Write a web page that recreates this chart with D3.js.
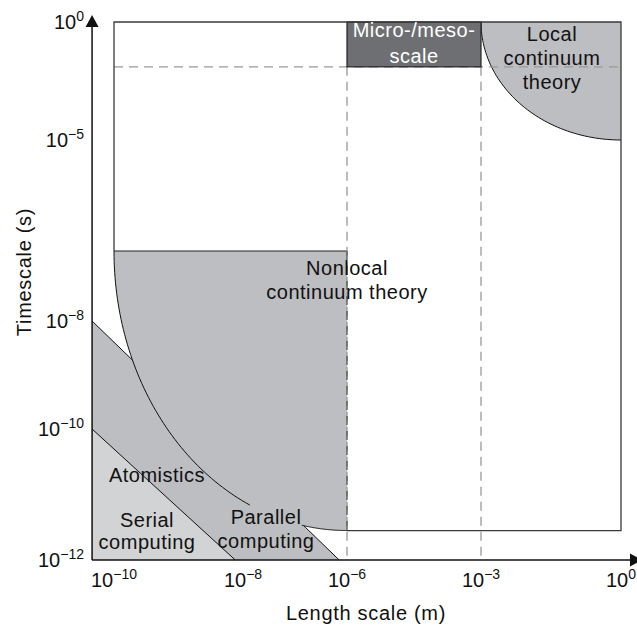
<!DOCTYPE html>
<html>
<head>
<meta charset="utf-8">
<script src="https://cdn.jsdelivr.net/npm/d3@7"></script>
<style>
body { margin: 0; background: #fff; }
text { font-family: "Liberation Sans", Arial, Helvetica, sans-serif; fill: #111; }
</style>
</head>
<body>
<script>
// axis ticks (schematic log axes, uneven decade spacing)
var xTicks = [1e-10, 1e-8, 1e-6, 1e-3, 1];
var yTicks = [1, 1e-5, 1e-8, 1e-10, 1e-12];

// where the two axes cross
var origin = [Math.pow(10, -10.34), 1e-12];

// regions, [length, time]
var frameX = [1e-10, 1];
var frameY = [1, Math.pow(10, -11.55)];
var mesoX = [1e-6, 1e-3];
var mesoY = [1, Math.pow(10, -1.9)];
var localX = [1e-3, 1];            // quarter ellipse round the (1, 1) corner
var localY = [1, 1e-5];
var nonlocalX = [1e-10, 1e-6];
var nonlocalY = [Math.pow(10, -6.84), Math.pow(10, -11.55)];
var atomLine = [[origin[0], 1e-8], [Math.pow(10, -6.15), 1e-12]];
var serialLine = [[origin[0], 1e-10], [Math.pow(10, -8.12), 1e-12]];
var arcGap = [Math.pow(10, -7.87), Math.pow(10, -6.87)]; // curve hidden near "Parallel"

var labelNames = {
    meso: ['Micro-/meso-', 'scale'],
    local: ['Local', 'continuum', 'theory'],
    nonlocal: ['Nonlocal', 'continuum theory'],
    atom: ['Atomistics'],
    serial: ['Serial', 'computing'],
    parallel: ['Parallel', 'computing']
};

var W = 637, H = 627;
var gray = '#bdbec1', light = '#d2d3d5', dark = '#6e6f72';

var svg = d3.select('body').append('svg')
    .attr('width', W)
    .attr('height', H);

var x = d3.scaleLog().domain(xTicks).range([114, 243, 347, 481, 621]);
var y = d3.scaleLog().domain(yTicks).range([22, 140, 321, 429, 560]);

var line = d3.line();
var ox = x(origin[0]), oy = y(origin[1]);

function ellipsePts(cx, cy, rx, ry, t0, t1) {
    return d3.range(0, 61).map(function (i) {
        var t = t0 + (t1 - t0) * i / 60;
        return [cx - rx * Math.cos(t), cy + ry * Math.sin(t)];
    });
}

// atomistics / parallel computing band
svg.append('path')
    .attr('d', line([[ox, y(atomLine[0][1])], [x(atomLine[1][0]), oy], [ox, oy]]) + 'Z')
    .attr('fill', gray);
svg.append('path')
    .attr('d', line(atomLine.map(function (d) { return [x(d[0]), y(d[1])]; })))
    .attr('stroke', '#111').attr('stroke-width', 1).attr('fill', 'none');

// nonlocal continuum region
var nlCx = x(nonlocalX[1]), nlCy = y(nonlocalY[0]);
var nlRx = nlCx - x(nonlocalX[0]), nlRy = y(nonlocalY[1]) - nlCy;
var nlArc = ellipsePts(nlCx, nlCy, nlRx, nlRy, 0, Math.PI / 2);
svg.append('path')
    .attr('d', line([[nlCx, nlCy]].concat(nlArc)) + 'Z')
    .attr('fill', gray);
var tGap = arcGap.map(function (v) { return Math.acos((nlCx - x(v)) / nlRx); });
[[0, tGap[0]], [tGap[1], Math.PI / 2]].forEach(function (r) {
    svg.append('path')
        .attr('d', line(ellipsePts(nlCx, nlCy, nlRx, nlRy, r[0], r[1])))
        .attr('stroke', '#111').attr('stroke-width', 1).attr('fill', 'none');
});
svg.append('line')
    .attr('x1', x(nonlocalX[0])).attr('x2', nlCx)
    .attr('y1', nlCy).attr('y2', nlCy)
    .attr('stroke', '#222').attr('stroke-width', 1.2);

// serial computing
svg.append('path')
    .attr('d', line([[ox, y(serialLine[0][1])], [x(serialLine[1][0]), oy], [ox, oy]]) + 'Z')
    .attr('fill', light);
svg.append('path')
    .attr('d', line(serialLine.map(function (d) { return [x(d[0]), y(d[1])]; })))
    .attr('stroke', '#111').attr('stroke-width', 1).attr('fill', 'none');

// local continuum region
var lcCx = x(localX[1]), lcCy = y(localY[0]);
var lcRx = lcCx - x(localX[0]), lcRy = y(localY[1]) - lcCy;
var lcArc = ellipsePts(lcCx, lcCy, lcRx, lcRy, 0, Math.PI / 2);
svg.append('path')
    .attr('d', line(lcArc.concat([[lcCx, lcCy]])) + 'Z')
    .attr('fill', gray);
svg.append('path')
    .attr('d', line(lcArc))
    .attr('stroke', '#111').attr('stroke-width', 1).attr('fill', 'none');

// dashed scale boundaries
var dash = '9,6';
svg.append('line')
    .attr('x1', x(frameX[0])).attr('x2', x(frameX[1]))
    .attr('y1', y(mesoY[1])).attr('y2', y(mesoY[1]))
    .attr('stroke', '#999').attr('stroke-width', 1.3).attr('stroke-dasharray', dash);
mesoX.forEach(function (v) {
    svg.append('line')
        .attr('x1', x(v)).attr('x2', x(v))
        .attr('y1', y(mesoY[1])).attr('y2', oy)
        .attr('stroke', '#999').attr('stroke-width', 1.3).attr('stroke-dasharray', dash);
});
svg.append('line')
    .attr('x1', nlCx).attr('x2', nlCx)
    .attr('y1', nlCy).attr('y2', y(nonlocalY[1]))
    .attr('stroke', '#555').attr('stroke-width', 1.3).attr('stroke-dasharray', dash);

// micro-/meso-scale box
svg.append('rect')
    .attr('x', x(mesoX[0])).attr('y', y(mesoY[0]))
    .attr('width', x(mesoX[1]) - x(mesoX[0]))
    .attr('height', y(mesoY[1]) - y(mesoY[0]))
    .attr('fill', dark).attr('stroke', '#222').attr('stroke-width', 1.2);

// outer frame of the continuum domain
var fx0 = x(frameX[0]), fx1 = x(frameX[1]), fy0 = y(frameY[0]), fy1 = y(frameY[1]);
svg.append('path')
    .attr('d', line([[fx0, nlCy], [fx0, fy0], [fx1, fy0], [fx1, fy1], [nlCx, fy1]]))
    .attr('stroke', '#3a3a3a').attr('stroke-width', 1.3).attr('fill', 'none');

// axes with arrow heads
svg.append('line')
    .attr('x1', ox).attr('x2', ox).attr('y1', oy).attr('y2', 20)
    .attr('stroke', '#111').attr('stroke-width', 1.5);
svg.append('path')
    .attr('d', line([[ox, 15], [ox - 6.5, 27], [ox + 6.5, 27]]) + 'Z')
    .attr('fill', '#111');
svg.append('line')
    .attr('x1', ox).attr('x2', 634).attr('y1', oy).attr('y2', oy)
    .attr('stroke', '#111').attr('stroke-width', 1.5);
svg.append('path')
    .attr('d', line([[642, oy], [630, oy - 6.5], [630, oy + 6.5]]) + 'Z')
    .attr('fill', '#111');

function expLabel(v) {
    return String(Math.round(Math.log10(v))).replace('-', '\u2212');
}

function powerText(sel) {
    sel.append('tspan').text('10');
    sel.append('tspan')
        .attr('dy', -8)
        .attr('font-size', 14)
        .text(function (d) { return expLabel(d); });
}

svg.selectAll('.xt').data(xTicks).enter().append('text')
    .attr('class', 'xt')
    .attr('x', function (d) { return x(d); })
    .attr('y', 587)
    .attr('text-anchor', 'middle')
    .attr('font-size', 20)
    .call(powerText);

svg.selectAll('.yt').data(yTicks).enter().append('text')
    .attr('class', 'yt')
    .attr('x', 84)
    .attr('y', function (d) { return y(d) + 7; })
    .attr('text-anchor', 'end')
    .attr('font-size', 20)
    .call(powerText);

svg.append('text')
    .attr('x', 366).attr('y', 620)
    .attr('text-anchor', 'middle')
    .attr('font-size', 20)
    .attr('letter-spacing', 0.7)
    .text('Length scale (m)');
svg.append('text')
    .attr('transform', 'translate(31,272) rotate(-90)')
    .attr('text-anchor', 'middle')
    .attr('font-size', 20)
    .attr('letter-spacing', 0.7)
    .text('Timescale (s)');

// region labels: centre x, first baseline, line step, colour
var labelLayout = {
    meso: [414, 37, 26, '#fff'],
    local: [552, 41, 24, '#111'],
    nonlocal: [347, 275, 24, '#111'],
    atom: [157, 482, 24, '#111'],
    serial: [147, 527, 22, '#111'],
    parallel: [266, 524, 24, '#111']
};
Object.keys(labelNames).forEach(function (k) {
    var lay = labelLayout[k];
    var t = svg.append('text')
        .attr('text-anchor', 'middle')
        .attr('font-size', 20)
        .attr('letter-spacing', 0.5)
        .style('fill', lay[3]);
    labelNames[k].forEach(function (s, i) {
        t.append('tspan')
            .attr('x', lay[0])
            .attr('y', lay[1] + i * lay[2])
            .text(s);
    });
});
</script>
</body>
</html>
